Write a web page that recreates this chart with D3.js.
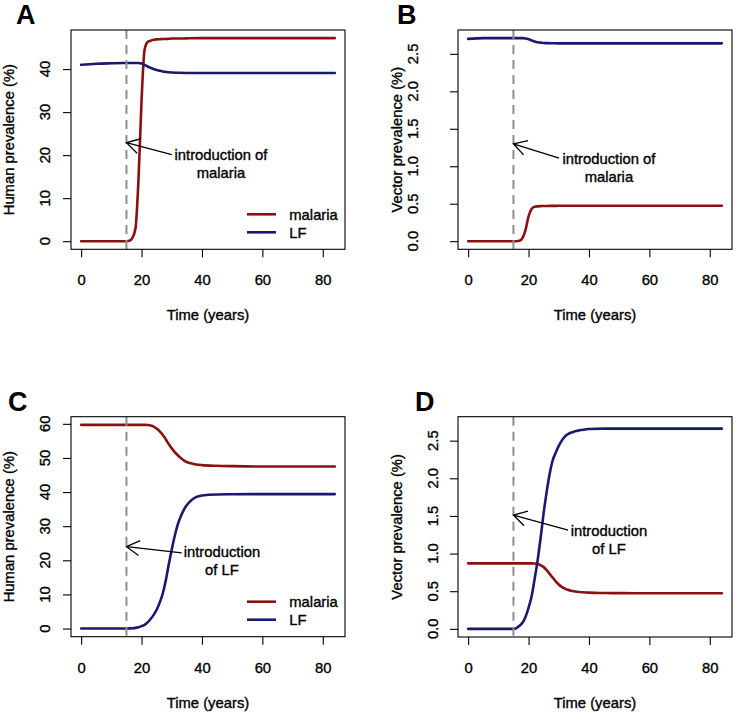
<!DOCTYPE html>
<html>
<head>
<meta charset="utf-8">
<script src="https://cdn.jsdelivr.net/npm/d3@7"></script>
<style>
  html, body { margin: 0; padding: 0; background: #fff; }
  svg { display: block; }
  text { font-family: "Liberation Sans", Arial, Helvetica, sans-serif; fill: #000; stroke: #000; stroke-width: 0.35px; }
  text.panel-label { stroke-width: 0; }
</style>
</head>
<body>
<svg id="chart" width="738" height="715"></svg>
<script>
// ---------------- DATA ----------------
const seriesNames = ["malaria", "LF"];
const xTicks = [0, 20, 40, 60, 80];
const xLim = [0, 84];
const introTime = 15;

// Panel A: human prevalence, malaria introduced
const tA = [0, 5, 10, 14, 15, 16, 17, 18, 19, 20, 21, 22, 23, 24, 25, 26, 27, 28, 29, 30, 32, 35, 40, 50, 60, 70, 84];
const malariaA = [0, 0, 0, 0, 0, 0.1, 0.8, 3.0, 14.5, 32.7, 44.5, 46.3, 46.6, 46.8, 46.9, 46.95, 47.0, 47.0, 47.05, 47.1, 47.1, 47.15, 47.2, 47.2, 47.2, 47.2, 47.2];
const lfA      = [41.0, 41.25, 41.35, 41.4, 41.4, 41.4, 41.4, 41.4, 41.4, 41.3, 41.0, 40.6, 40.3, 40.0, 39.8, 39.6, 39.45, 39.35, 39.25, 39.2, 39.15, 39.1, 39.1, 39.1, 39.1, 39.1, 39.1];
const yLimA = [0, 47.2];
const yTicksA = [0, 10, 20, 30, 40];

// Panel B: vector prevalence, malaria introduced
const tB = [0, 5, 10, 15, 16, 17, 18, 19, 20, 21, 22, 23, 24, 25, 26, 28, 30, 35, 40, 50, 60, 70, 84];
const malariaB = [0, 0, 0, 0, 0, 0.005, 0.04, 0.15, 0.33, 0.43, 0.46, 0.465, 0.468, 0.47, 0.47, 0.471, 0.472, 0.473, 0.473, 0.473, 0.473, 0.473, 0.473];
const lfB      = [2.70, 2.71, 2.71, 2.71, 2.71, 2.71, 2.71, 2.705, 2.695, 2.68, 2.665, 2.655, 2.65, 2.645, 2.643, 2.641, 2.64, 2.64, 2.64, 2.64, 2.64, 2.64, 2.64];
const yLimB = [0, 2.71];
const yTicksB = [0, 0.5, 1.0, 1.5, 2.0, 2.5];

// Panel C: human prevalence, LF introduced
const tC = [0, 5, 10, 15, 16, 17, 18, 19, 20, 21, 22, 23, 24, 25, 26, 27, 28, 29, 30, 31, 32, 33, 34, 35, 36, 38, 40, 45, 50, 60, 70, 84];
const malariaC = [59.7, 59.7, 59.7, 59.7, 59.7, 59.7, 59.7, 59.7, 59.7, 59.7, 59.65, 59.5, 59.2, 58.6, 57.8, 56.8, 55.5, 54.1, 52.8, 51.7, 50.8, 50.0, 49.3, 48.8, 48.5, 48.1, 47.9, 47.7, 47.6, 47.5, 47.5, 47.5];
const lfC      = [0, 0, 0, 0, 0.05, 0.1, 0.2, 0.4, 0.7, 1.1, 1.8, 2.8, 4.0, 5.5, 7.6, 10.2, 14.0, 18.8, 23.2, 27.2, 30.5, 32.9, 34.8, 36.2, 37.2, 38.5, 39.0, 39.3, 39.35, 39.4, 39.4, 39.4];
const yLimC = [0, 59.7];
const yTicksC = [0, 10, 20, 30, 40, 50, 60];

// Panel D: vector prevalence, LF introduced
const tD = [0, 5, 10, 15, 16, 17, 18, 19, 20, 21, 22, 23, 24, 25, 26, 27, 28, 29, 30, 31, 32, 33, 34, 35, 36, 38, 40, 45, 50, 60, 70, 84];
const malariaD = [0.87, 0.87, 0.87, 0.87, 0.87, 0.87, 0.87, 0.87, 0.87, 0.87, 0.868, 0.86, 0.845, 0.82, 0.78, 0.73, 0.68, 0.632, 0.59, 0.557, 0.535, 0.518, 0.507, 0.499, 0.493, 0.486, 0.481, 0.476, 0.474, 0.472, 0.472, 0.472];
const lfD      = [0, 0, 0, 0, 0.01, 0.04, 0.08, 0.16, 0.28, 0.43, 0.66, 0.91, 1.21, 1.54, 1.82, 2.06, 2.24, 2.34, 2.43, 2.50, 2.555, 2.585, 2.605, 2.62, 2.63, 2.645, 2.655, 2.66, 2.66, 2.66, 2.66, 2.66];
const yLimD = [0, 2.71];
const yTicksD = [0, 0.5, 1.0, 1.5, 2.0, 2.5];

// Annotations (data coordinates): arrow tail, arrow head, text centre
const noteLinesMalaria = ["introduction of", "malaria"];
const noteLinesLF = ["introduction", "of LF"];
const arrowTail = { A: [30, 20.1], B: [30.1, 1.107], C: [33.3, 22.2], D: [33.1, 1.313] };
const arrowHead = { A: [15, 22.9], B: [15, 1.30], C: [15, 24.0], D: [15, 1.512] };
const noteAt    = { A: [46.3, 17.9], B: [46.6, 0.986], C: [46.6, 19.8], D: [46.6, 1.187] };

const xTitle = "Time (years)";
const yTitleHuman = "Human prevalence (%)";
const yTitleVector = "Vector prevalence (%)";

// ---------------- LAYOUT / STYLE ----------------
const colors = { malaria: "#8b1010", LF: "#191970" };
const FONT = 14.8;
const panels = [
  { id: "A", t: tA, s: { malaria: malariaA, LF: lfA }, yLim: yLimA, yTicks: yTicksA, yTitle: yTitleHuman, note: noteLinesMalaria,
    box: [71, 30, 345, 249.3], tickLabX: 45, titleX: 13.5, lab: [16, 23.5], legend: true, fmt: d3.format("d") },
  { id: "B", t: tB, s: { malaria: malariaB, LF: lfB }, yLim: yLimB, yTicks: yTicksB, yTitle: yTitleVector, note: noteLinesMalaria,
    box: [458, 30, 732, 249.3], tickLabX: 413, titleX: 402, lab: [397, 23.5], legend: false, fmt: d3.format(".1f") },
  { id: "C", t: tC, s: { malaria: malariaC, LF: lfC }, yLim: yLimC, yTicks: yTicksC, yTitle: yTitleHuman, note: noteLinesLF,
    box: [71, 416.7, 345, 636.7], tickLabX: 45, titleX: 13.5, lab: [8, 411], legend: true, fmt: d3.format("d") },
  { id: "D", t: tD, s: { malaria: malariaD, LF: lfD }, yLim: yLimD, yTicks: yTicksD, yTitle: yTitleVector, note: noteLinesLF,
    box: [458, 416.7, 732, 637], tickLabX: 433, titleX: 402, lab: [415, 411], legend: false, fmt: d3.format(".1f") }
];

const svg = d3.select("#chart");
const pad = (lim) => { const r = (lim[1] - lim[0]) * 0.04; return [lim[0] - r, lim[1] + r]; };

panels.forEach(p => {
  const [x0, y0, x1, y1] = p.box;
  const x = d3.scaleLinear().domain(pad(xLim)).range([x0, x1]);
  const y = d3.scaleLinear().domain(pad(p.yLim)).range([y1, y0]);
  const g = svg.append("g");

  // series lines
  seriesNames.forEach(name => {
    const pts = p.t.map((tt, i) => [tt, p.s[name][i]]);
    g.append("path")
      .attr("d", d3.line().x(d => x(d[0])).y(d => y(d[1])).curve(d3.curveMonotoneX)(pts))
      .attr("fill", "none").attr("stroke", colors[name]).attr("stroke-width", 2.6)
      .attr("stroke-linecap", "round").attr("stroke-linejoin", "round");
  });

  // dashed introduction line
  g.append("line")
    .attr("x1", x(introTime)).attr("x2", x(introTime)).attr("y1", y0).attr("y2", y1)
    .attr("stroke", "#8e8e8e").attr("stroke-width", 2).attr("stroke-dasharray", "9,6");

  // box
  g.append("rect").attr("x", x0).attr("y", y0).attr("width", x1 - x0).attr("height", y1 - y0)
    .attr("fill", "none").attr("stroke", "#000").attr("stroke-width", 1.1);

  // x axis
  const xa = g.append("g").attr("transform", `translate(0,${y1})`)
    .call(d3.axisBottom(x).tickValues(xTicks).tickSize(8).tickSizeOuter(0).tickPadding(0).tickFormat(d3.format("d")));
  xa.select(".domain").remove();
  xa.selectAll("line").attr("stroke", "#000").attr("stroke-width", 1.1);
  xa.selectAll("text").attr("dy", null).attr("y", 36)
    .style("font-size", FONT + "px").style("font-family", '"Liberation Sans", Arial, sans-serif').attr("fill", "#000");

  // y axis ticks
  const ya = g.append("g").attr("transform", `translate(${x0},0)`)
    .call(d3.axisLeft(y).tickValues(p.yTicks).tickSize(8).tickSizeOuter(0).tickFormat(""));
  ya.select(".domain").remove();
  ya.selectAll("line").attr("stroke", "#000").attr("stroke-width", 1.1);
  // y tick labels (rotated, parallel to axis)
  g.selectAll(".ylab").data(p.yTicks).enter().append("text")
    .attr("transform", d => `translate(${p.tickLabX},${y(d)}) rotate(-90)`)
    .attr("text-anchor", "middle").attr("dy", "0.36em")
    .style("font-size", FONT + "px").text(d => p.fmt(d));

  // axis titles
  g.append("text").attr("x", (x0 + x1) / 2).attr("y", y1 + 71)
    .attr("text-anchor", "middle").style("font-size", FONT + "px").text(xTitle);
  g.append("text").attr("transform", `translate(${p.titleX},${(y0 + y1) / 2}) rotate(-90)`)
    .attr("text-anchor", "middle").style("font-size", FONT + "px").text(p.yTitle);

  // panel label
  g.append("text").attr("class", "panel-label").attr("x", p.lab[0]).attr("y", p.lab[1])
    .style("font-size", "27px").style("font-weight", "bold").text(p.id);

  // annotation arrow
  const [ax0, ay0] = [x(arrowTail[p.id][0]), y(arrowTail[p.id][1])];
  const [ax1, ay1] = [x(arrowHead[p.id][0]), y(arrowHead[p.id][1])];
  const ang = Math.atan2(ay0 - ay1, ax0 - ax1);
  const L = 15, A = Math.PI / 6;
  const arrowPath = `M${ax0},${ay0}L${ax1},${ay1}` +
    `M${ax1 + L * Math.cos(ang - A)},${ay1 + L * Math.sin(ang - A)}L${ax1},${ay1}` +
    `L${ax1 + L * Math.cos(ang + A)},${ay1 + L * Math.sin(ang + A)}`;
  g.append("path").attr("d", arrowPath).attr("fill", "none").attr("stroke", "#000").attr("stroke-width", 1.3);

  const [nx, ny] = [x(noteAt[p.id][0]), y(noteAt[p.id][1])];
  p.note.forEach((ln, i) => {
    g.append("text").attr("x", nx).attr("y", ny + (i - 0.5) * 18).attr("dy", "0.36em")
      .attr("text-anchor", "middle").style("font-size", FONT + "px").text(ln);
  });

  // legend
  if (p.legend) {
    seriesNames.forEach((name, i) => {
      const ly = y1 - 35 + i * 18;
      g.append("line").attr("x1", x1 - 98).attr("x2", x1 - 69).attr("y1", ly).attr("y2", ly)
        .attr("stroke", colors[name]).attr("stroke-width", 2.6);
      g.append("text").attr("x", x1 - 55.7).attr("y", ly).attr("dy", "0.36em")
        .style("font-size", FONT + "px").text(name);
    });
  }
});
</script>
</body>
</html>
